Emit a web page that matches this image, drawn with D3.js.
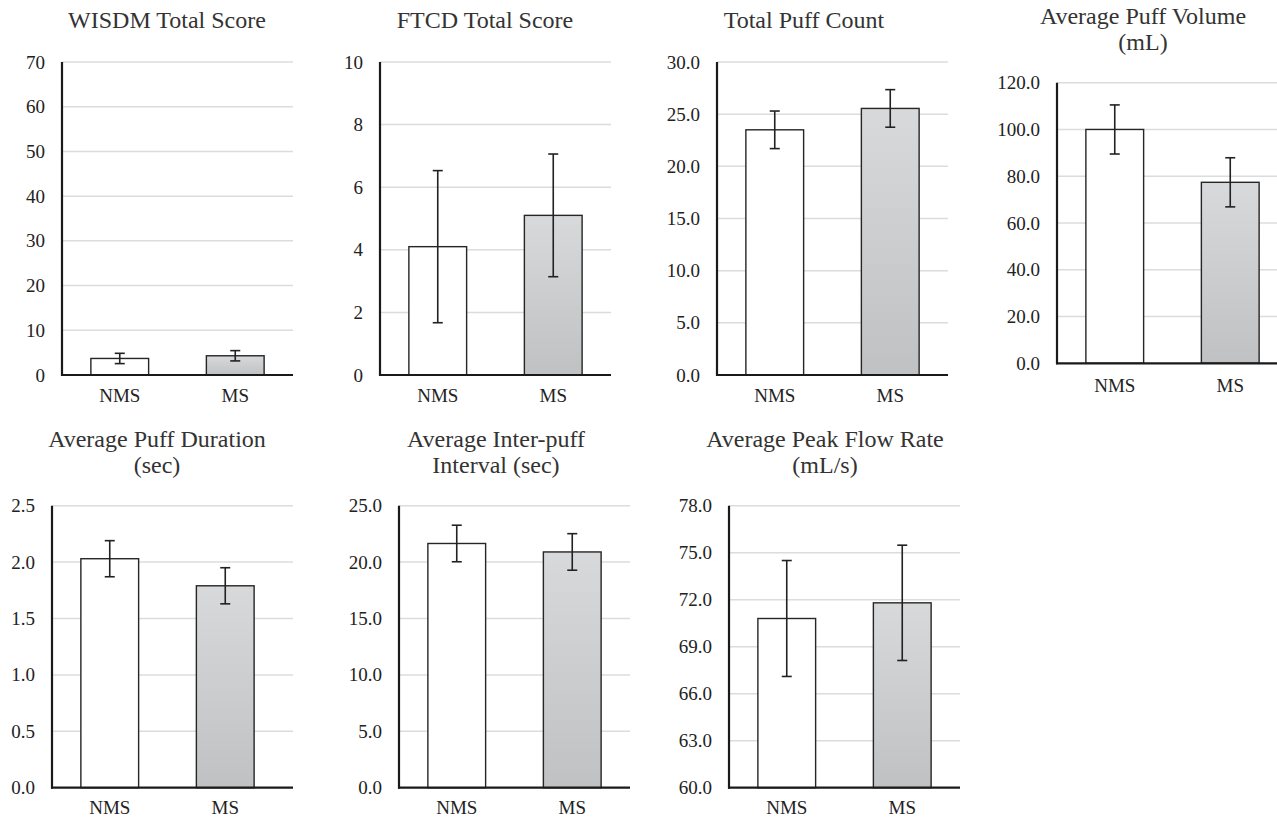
<!DOCTYPE html>
<html><head><meta charset="utf-8">
<script src="https://cdn.jsdelivr.net/npm/d3@7"></script>
<style>
html,body{margin:0;padding:0;background:#fff;font-family:'Liberation Serif';}
svg, svg text{font-family:'Liberation Serif' !important;}
</style></head>
<body><svg id="c" width="1277" height="820" font-family="Liberation Serif"></svg>
<script>
const categories = ["NMS", "MS"];
const titles = [
  ["WISDM Total Score"],
  ["FTCD Total Score"],
  ["Total Puff Count"],
  ["Average Puff Volume", "(mL)"],
  ["Average Puff Duration", "(sec)"],
  ["Average Inter-puff", "Interval (sec)"],
  ["Average Peak Flow Rate", "(mL/s)"]
];
const nmsMeans = [3.7, 4.1, 23.5, 100.0, 2.03, 21.65, 70.8];
const nmsErrors = [1.15, 2.43, 1.8, 10.5, 0.16, 1.62, 3.7];
const msMeans = [4.3, 5.1, 25.55, 77.4, 1.79, 20.9, 71.8];
const msErrors = [1.15, 1.96, 1.8, 10.5, 0.16, 1.62, 3.68];
const yMins = [0, 0, 0, 0, 0, 0, 60];
const yMaxs = [70, 10, 30, 120, 2.5, 25, 78];
const yTickValues = [
  [0, 10, 20, 30, 40, 50, 60, 70],
  [0, 2, 4, 6, 8, 10],
  [0, 5, 10, 15, 20, 25, 30],
  [0, 20, 40, 60, 80, 100, 120],
  [0, 0.5, 1, 1.5, 2, 2.5],
  [0, 5, 10, 15, 20, 25],
  [60, 63, 66, 69, 72, 75, 78]
];
const tickFormats = ["d", "d", ".1f", ".1f", ".1f", ".1f", ".1f"];

const FONT = "Liberation Serif";

// layout (pixel geometry per panel)
const layout = [
  {x0: 62,   x1: 293,  y0: 62,    y1: 375,   tx: 167,  ty: [28],      cy: 402},
  {x0: 380,  x1: 611,  y0: 62,    y1: 375,   tx: 485,  ty: [28],      cy: 402},
  {x0: 717,  x1: 948,  y0: 62,    y1: 375,   tx: 804,  ty: [28],      cy: 402},
  {x0: 1057, x1: 1277, y0: 82.7,  y1: 363.3, tx: 1143, ty: [24, 50],  cy: 392},
  {x0: 52,   x1: 293,  y0: 505.7, y1: 787.7, tx: 157,  ty: [447, 473], cy: 814},
  {x0: 399,  x1: 630,  y0: 505.7, y1: 787.7, tx: 496,  ty: [447, 473], cy: 814},
  {x0: 729,  x1: 960,  y0: 505.7, y1: 787.7, tx: 825,  ty: [447, 473], cy: 814}
];

const svg = d3.select("#c");
const defs = svg.append("defs");
const grad = defs.append("linearGradient").attr("id", "msGrad")
  .attr("x1", 0).attr("y1", 0).attr("x2", 0).attr("y2", 1);
grad.append("stop").attr("offset", "0%").attr("stop-color", "#d8d9db");
grad.append("stop").attr("offset", "100%").attr("stop-color", "#c0c1c3");

layout.forEach((L, i) => {
  const g = svg.append("g").attr("font-family", FONT);
  const x = d3.scaleBand().domain(categories).range([L.x0, L.x0 + 2 * 115.5]).paddingInner(0.5).paddingOuter(0.25);
  const y = d3.scaleLinear().domain([yMins[i], yMaxs[i]]).range([L.y1, L.y0]);
  const fmt = d3.format(tickFormats[i]);

  // gridlines
  g.append("g").selectAll("line").data(yTickValues[i].filter(v => v !== yMins[i])).join("line")
    .attr("x1", L.x0).attr("x2", L.x1)
    .attr("y1", d => y(d)).attr("y2", d => y(d))
    .attr("stroke", "#dcdcdc").attr("stroke-width", 1.5);

  // y tick labels
  const yAxis = d3.axisLeft(y).tickValues(yTickValues[i]).tickFormat(fmt).tickSize(0).tickPadding(17);
  const ya = g.append("g").attr("transform", `translate(${L.x0},0)`).call(yAxis);
  ya.attr("font-family", FONT).attr("font-size", 19);
  ya.select(".domain").remove();
  ya.selectAll("text").attr("font-size", 19).attr("fill", "#222")
    .attr("font-family", FONT);

  const data = [
    {c: "NMS", v: nmsMeans[i], e: nmsErrors[i], fill: "#ffffff"},
    {c: "MS", v: msMeans[i], e: msErrors[i], fill: "url(#msGrad)"}
  ];
  // bars
  g.append("g").selectAll("rect").data(data).join("rect")
    .attr("x", d => x(d.c)).attr("width", x.bandwidth())
    .attr("y", d => y(d.v)).attr("height", d => y(yMins[i]) - y(d.v))
    .attr("fill", d => d.fill).attr("stroke", "#262626").attr("stroke-width", 1.4);

  // error bars
  const eg = g.append("g").attr("stroke", "#222").attr("stroke-width", 1.6);
  data.forEach(d => {
    const cx = x(d.c) + x.bandwidth() / 2;
    eg.append("line").attr("x1", cx).attr("x2", cx).attr("y1", y(d.v + d.e)).attr("y2", y(d.v - d.e));
    eg.append("line").attr("x1", cx - 5).attr("x2", cx + 5).attr("y1", y(d.v + d.e)).attr("y2", y(d.v + d.e));
    eg.append("line").attr("x1", cx - 5).attr("x2", cx + 5).attr("y1", y(d.v - d.e)).attr("y2", y(d.v - d.e));
  });

  // axes lines
  g.append("line").attr("x1", L.x0).attr("x2", L.x0).attr("y1", L.y0).attr("y2", L.y1 + 1)
    .attr("stroke", "#1a1a1a").attr("stroke-width", 2.2);
  g.append("line").attr("x1", L.x0 - 1).attr("x2", L.x1).attr("y1", L.y1).attr("y2", L.y1)
    .attr("stroke", "#1a1a1a").attr("stroke-width", 2.2);

  // category labels
  g.append("g").selectAll("text").data(categories).join("text")
    .attr("x", d => x(d) + x.bandwidth() / 2).attr("y", L.cy)
    .attr("text-anchor", "middle").attr("font-size", 19).attr("fill", "#222")
    .attr("font-family", FONT).text(d => d);

  // title
  titles[i].forEach((t, k) => {
    g.append("text").attr("x", L.tx).attr("y", L.ty[k]).attr("text-anchor", "middle")
      .attr("font-size", 24).attr("fill", "#333").attr("font-family", FONT).text(t);
  });
});
</script></body></html>
